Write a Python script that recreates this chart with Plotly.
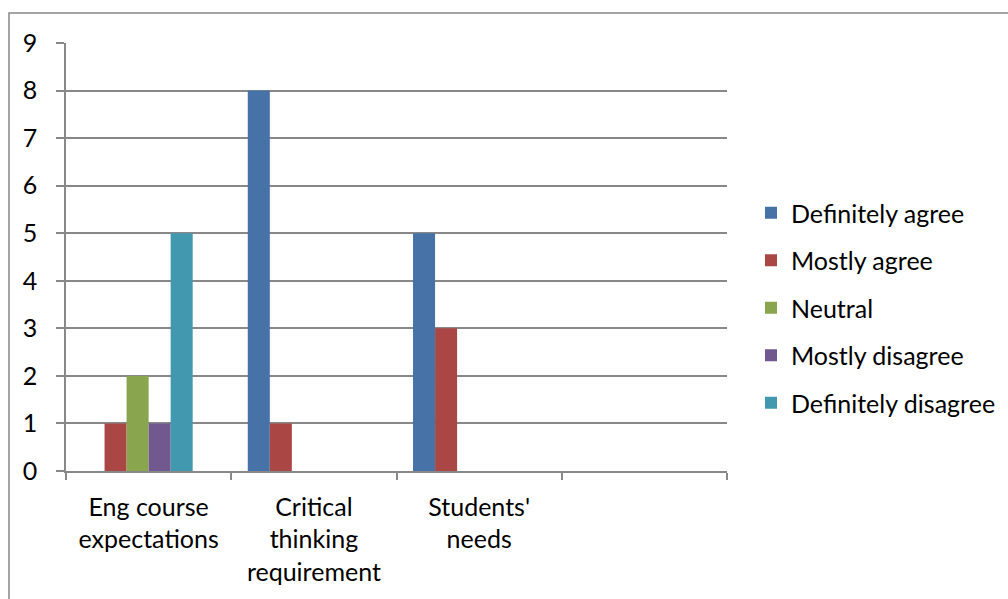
import plotly.graph_objects as go

# Survey responses per question (4th slot intentionally left empty)
categories = ["Eng course<br>expectations", "Critical<br>thinking<br>requirement", "Students'<br>needs", ""]
series_names = ["Definitely agree", "Mostly agree", "Neutral", "Mostly disagree", "Definitely disagree"]
definitely_agree = [0, 8, 5, 0]
mostly_agree = [1, 1, 3, 0]
neutral = [2, 0, 0, 0]
mostly_disagree = [1, 0, 0, 0]
definitely_disagree = [5, 0, 0, 0]
y_ticks = list(range(0, 10))

series_values = [definitely_agree, mostly_agree, neutral, mostly_disagree, definitely_disagree]
colors = ["#4672A8", "#AA4744", "#89A54E", "#71588F", "#4298AF"]

W, H = 1008, 599
L, R, T, B = 66, 727, 43, 471   # plot-area pixel box
FONT = "Lato"
FSIZE = 25
GRID = "#888888"

x_pos = list(range(len(categories)))
slots = 6
group_width = 0.8
slot = group_width / slots

fig = go.Figure()
for i, (name, vals) in enumerate(zip(series_names, series_values)):
    fig.add_trace(go.Bar(
        x=x_pos, y=vals, name=name,
        marker=dict(color=colors[i], line=dict(width=0)),
        width=slot, offset=-group_width / 2 + i * slot,
        legendgroup=name,
    ))

PAPER_W = W - L  # right margin is zero; axis domain limits the plot width

def px_to_paper_x(px):
    return (px - L) / PAPER_W

def px_to_paper_y(py):
    return (B - py) / (B - T)

fig.update_layout(
    width=W, height=H,
    margin=dict(l=L, r=0, t=T, b=H - B, pad=0),
    paper_bgcolor="white", plot_bgcolor="white",
    barmode="overlay",
    font=dict(family=FONT, size=FSIZE, color="black"),
    showlegend=True,
    legend=dict(
        x=px_to_paper_x(751), xanchor="left",
        y=px_to_paper_y(308), yanchor="middle",
        font=dict(family=FONT, size=FSIZE, color="black"),
        tracegroupgap=12, bgcolor="rgba(0,0,0,0)",
    ),
    xaxis=dict(
        domain=[0, px_to_paper_x(R)],
        range=[-0.5, len(categories) - 0.5],
        tickvals=x_pos, ticktext=categories,
        ticks="", showgrid=False,
        showline=True, linecolor=GRID, linewidth=1.5,
        minor=dict(tick0=-0.5, dtick=1, ticks="outside", ticklen=7,
                   tickcolor=GRID, tickwidth=1.5, showgrid=False),
        tickfont=dict(family=FONT, size=FSIZE, color="black"),
        ticklabelstandoff=13,
        zeroline=False, fixedrange=True,
    ),
    yaxis=dict(
        range=[0, 9], tickvals=y_ticks,
        ticks="outside", ticklen=8, tickcolor=GRID, tickwidth=1.5,
        showgrid=True, gridcolor=GRID, gridwidth=1.5,
        showline=True, linecolor=GRID, linewidth=1.5,
        zeroline=False, ticklabelstandoff=14,
        tickfont=dict(family=FONT, size=FSIZE, color="black"),
        fixedrange=True,
    ),
    shapes=[dict(
        type="rect", xref="paper", yref="paper",
        x0=px_to_paper_x(9), x1=px_to_paper_x(W + 20),
        y0=px_to_paper_y(H + 20), y1=px_to_paper_y(13),
        line=dict(color=GRID, width=1.5), fillcolor="rgba(0,0,0,0)",
        layer="below",
    )],
)

fig.write_html("out.html")
